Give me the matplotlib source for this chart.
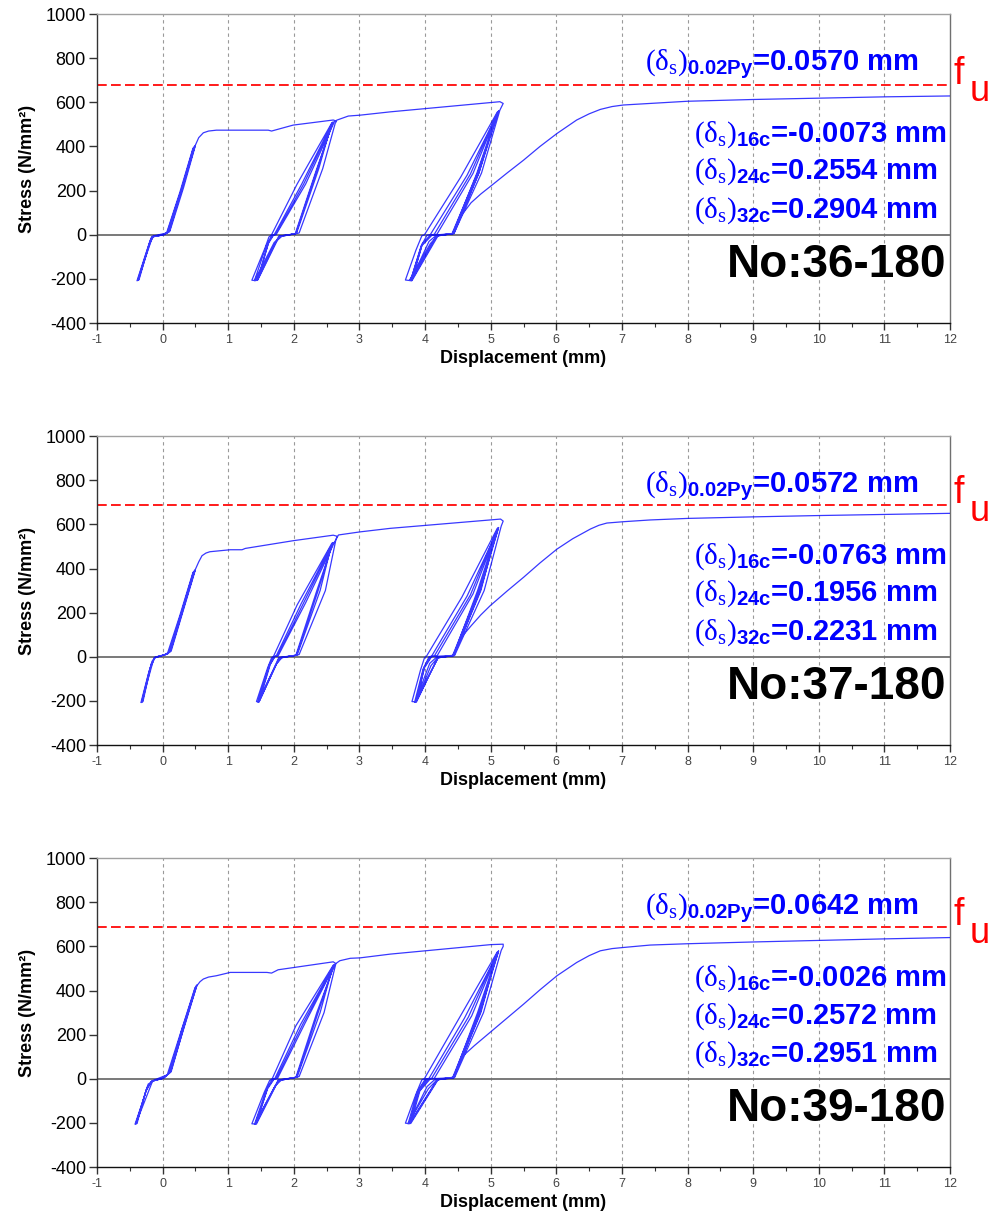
import matplotlib
matplotlib.use("Agg")
import matplotlib.pyplot as plt
from matplotlib.ticker import MultipleLocator

plt.rcParams["font.family"] = ["Liberation Sans", "DejaVu Sans"]
plt.rcParams["axes.unicode_minus"] = False
plt.rcParams["mathtext.fontset"] = "custom"
plt.rcParams["mathtext.rm"] = "Liberation Serif"
plt.rcParams["mathtext.it"] = "Liberation Serif:italic"
plt.rcParams["mathtext.bf"] = "Liberation Sans:bold"
plt.rcParams["mathtext.sf"] = "Liberation Sans"

# ---------------------------------------------------------------- data
x_ticks = list(range(-1, 13))
y_ticks = [-400, -200, 0, 200, 400, 600, 800, 1000]

specimens = ["No:36-180", "No:37-180", "No:39-180"]
fu_levels = [677, 687, 687]
slip_02py = ["0.0570", "0.0572", "0.0642"]
slip_16c = ["-0.0073", "-0.0763", "-0.0026"]
slip_24c = ["0.2554", "0.1956", "0.2572"]
slip_32c = ["0.2904", "0.2231", "0.2951"]

# (displacement mm, stress N/mm2) recorded along each test
path_36 = [
    # first cycles around zero
    (-0.39, -208), (-0.25, -80), (-0.19, -25), (-0.15, -8), (-0.05, -2), (0.03, 2), (0.09, 14), (0.30, 210), (0.49, 400),
    (0.47, 395), (0.28, 200), (0.07, 10), (-0.02, -2), (-0.14, -8), (-0.20, -40), (-0.37, -206),
    (-0.36, -204), (-0.22, -60), (-0.16, -10), (0.00, -1), (0.11, 16), (0.32, 215), (0.50, 405),
    (0.46, 390), (0.26, 190), (0.06, 8), (-0.15, -6), (-0.38, -207),
    (-0.23, -65), (-0.17, -10), (0.02, 0), (0.10, 13), (0.49, 400), (0.55, 440), (0.62, 462),
    (0.70, 470), (0.82, 474), (1.61, 474), (1.66, 470), (1.84, 485), (1.99, 497), (2.60, 520), (2.65, 515),
    # cycles at about 2 mm
    (2.63, 505), (2.44, 300), (2.08, 8), (1.82, -6), (1.73, -30), (1.42, -208),
    (1.36, -206), (1.56, -60), (1.62, -10), (1.66, 0), (2.05, 230), (2.58, 508),
    (2.38, 300), (2.04, 6), (1.80, -8), (1.70, -35), (1.40, -208),
    (1.40, -207), (1.58, -50), (1.66, -5), (1.70, 0), (2.12, 230), (2.59, 510),
    (2.36, 300), (2.03, 5), (1.78, -6), (1.45, -205),
    (1.62, -30), (1.68, -2), (1.72, 1), (2.15, 230), (2.60, 511),
    (2.35, 300), (2.02, 4), (1.77, -6), (1.44, -207),
    (1.61, -40), (1.69, -2), (1.73, 1), (2.18, 230), (2.62, 514),
    (2.66, 520), (2.83, 538), (3.01, 542), (3.47, 557), (5.14, 603), (5.19, 595),
    # cycles at about 4.5 mm
    (5.14, 565), (4.86, 280), (4.44, 6), (4.17, -3), (4.06, -30), (3.78, -208),
    (3.70, -205), (3.86, -70), (3.95, -5), (3.99, 0), (4.54, 260), (5.10, 556),
    (4.82, 280), (4.43, 6), (4.19, -5), (4.08, -40), (3.76, -207),
    (3.78, -206), (3.94, -50), (4.03, -2), (4.08, 1), (4.64, 270), (5.12, 560),
    (4.80, 280), (4.41, 5), (4.18, -4), (3.79, -209),
    (3.96, -40), (4.08, -1), (4.14, 2), (4.69, 275), (5.11, 558),
    (4.79, 280), (4.42, 5), (4.17, -6), (3.78, -206),
    (3.95, -45), (4.10, -2), (4.18, 2), (4.73, 278), (5.12, 562),
    (4.82, 280), (4.44, 5), (4.20, -3), (3.80, -208),
    # final loading to the end of the test
    (3.95, -50), (4.10, -2), (4.42, 5), (4.48, 40), (4.56, 90), (4.70, 145), (4.85, 185),
    (4.99, 218), (5.25, 280), (5.50, 338), (5.75, 400), (6.01, 459), (6.31, 520), (6.50, 548),
    (6.67, 568), (6.85, 581), (7.02, 588), (7.43, 595), (8.0, 605), (9.0, 613),
    (10.0, 619), (11.0, 625), (12.0, 629),
]

path_37 = [
    (-0.33, -207), (-0.22, -80), (-0.16, -20), (-0.12, -4), (-0.02, 4), (0.05, 10), (0.11, 23), (0.30, 210), (0.49, 390),
    (0.47, 385), (0.28, 195), (0.09, 15), (-0.02, 5), (-0.12, -5), (-0.18, -40), (-0.31, -205),
    (-0.30, -203), (-0.17, -30), (-0.11, -1), (0.03, 9), (0.13, 26), (0.32, 215), (0.50, 395),
    (0.46, 380), (0.26, 185), (0.07, 12), (-0.13, -4), (-0.32, -206),
    (-0.20, -60), (-0.12, -3), (0.02, 8), (0.12, 24), (0.49, 390), (0.55, 430), (0.60, 458),
    (0.66, 470), (0.72, 476), (1.03, 485), (1.21, 485), (1.26, 491), (1.99, 526), (2.60, 551),
    (2.66, 546), (2.64, 530),
    (2.48, 300), (2.08, 10), (1.82, -4), (1.74, -30), (1.47, -204),
    (1.43, -203), (1.60, -50), (1.66, -5), (1.69, 2), (2.05, 235), (2.58, 515),
    (2.40, 300), (2.05, 8), (1.80, -5), (1.72, -40), (1.45, -205),
    (1.62, -40), (1.69, 0), (1.73, 3), (2.11, 240), (2.59, 516),
    (2.37, 300), (2.04, 7), (1.78, -3), (1.47, -204),
    (1.64, -35), (1.71, 1), (1.75, 4), (2.15, 245), (2.60, 518),
    (2.35, 300), (2.03, 6), (1.77, -4), (1.46, -206),
    (1.63, -38), (1.71, 1), (1.76, 4), (2.18, 245), (2.62, 520),
    (2.68, 552), (3.01, 566), (3.47, 582), (4.99, 620), (5.15, 624), (5.19, 615), (5.16, 592),
    (4.90, 300), (4.45, 6), (4.17, -3), (4.07, -30), (3.85, -204),
    (3.80, -203), (3.93, -60), (3.99, -5), (4.02, 2), (4.56, 270), (5.10, 582),
    (4.85, 300), (4.44, 7), (4.19, -5), (4.09, -40), (3.86, -205),
    (3.98, -50), (4.06, 0), (4.10, 3), (4.64, 275), (5.12, 585),
    (4.82, 300), (4.42, 6), (4.20, -4), (3.84, -206),
    (3.97, -55), (4.08, 0), (4.14, 3), (4.69, 280), (5.11, 584),
    (4.80, 300), (4.43, 5), (4.19, -5), (3.87, -204),
    (3.99, -45), (4.09, 1), (4.18, 3), (4.73, 285), (5.12, 586),
    (4.84, 300), (4.44, 5), (4.20, -3), (3.86, -205),
    (3.99, -50), (4.10, 1), (4.42, 6), (4.48, 40), (4.53, 80), (4.70, 140), (4.85, 190),
    (4.99, 231), (5.25, 298), (5.50, 360), (5.75, 425), (6.01, 488), (6.25, 535), (6.52, 579),
    (6.65, 596), (6.77, 606), (7.02, 612), (7.43, 620), (8.0, 627), (9.0, 634),
    (10.0, 640), (11.0, 645), (12.0, 650),
]

path_39 = [
    (-0.42, -205), (-0.30, -100), (-0.22, -24), (-0.14, -9), (-0.04, -1), (0.01, 3), (0.11, 29), (0.30, 230), (0.52, 421),
    (0.50, 415), (0.29, 215), (0.09, 22), (-0.02, 1), (-0.16, -10), (-0.24, -40), (-0.40, -204),
    (-0.39, -202), (-0.25, -50), (-0.17, -12), (0.00, 2), (0.13, 32), (0.33, 240), (0.52, 425),
    (0.49, 410), (0.27, 205), (0.07, 18), (-0.15, -8), (-0.41, -205),
    (-0.26, -60), (-0.17, -11), (0.02, 3), (0.12, 30), (0.52, 421), (0.57, 440), (0.62, 452),
    (0.70, 461), (0.82, 467), (1.03, 482), (1.59, 482), (1.66, 479), (1.76, 494), (2.60, 530), (2.64, 522),
    (2.46, 300), (2.08, 10), (1.81, -6), (1.72, -30), (1.42, -205),
    (1.36, -204), (1.55, -60), (1.63, -8), (1.67, 0), (2.03, 240), (2.60, 515),
    (2.40, 300), (2.05, 8), (1.78, -8), (1.70, -40), (1.40, -206),
    (1.58, -50), (1.67, -2), (1.71, 1), (2.10, 245), (2.61, 516),
    (2.37, 300), (2.04, 7), (1.77, -5), (1.43, -205),
    (1.60, -40), (1.69, -1), (1.73, 1), (2.14, 250), (2.62, 518),
    (2.35, 300), (2.03, 6), (1.76, -6), (1.41, -206),
    (1.60, -45), (1.70, -1), (1.75, 1), (2.17, 252), (2.63, 520),
    (2.70, 535), (2.86, 546), (3.01, 548), (3.47, 565), (5.00, 608), (5.19, 610), (5.19, 600), (5.16, 582),
    (4.89, 300), (4.45, 6), (4.15, -3), (4.03, -35), (3.75, -203),
    (3.70, -201), (3.86, -70), (3.95, -5), (3.99, 1), (4.50, 265), (5.10, 575),
    (4.85, 300), (4.44, 8), (4.18, -5), (4.05, -45), (3.74, -204),
    (3.88, -60), (4.00, -2), (4.06, 2), (4.60, 275), (5.12, 578),
    (4.82, 300), (4.42, 6), (4.19, -4), (3.77, -202),
    (3.90, -50), (4.03, -1), (4.10, 2), (4.66, 280), (5.11, 577),
    (4.80, 300), (4.43, 5), (4.18, -5), (3.76, -204),
    (3.91, -55), (4.05, -1), (4.14, 2), (4.71, 285), (5.12, 580),
    (4.84, 300), (4.44, 4), (4.20, -3), (3.78, -203),
    (3.92, -55), (4.08, 0), (4.43, 5), (4.49, 50), (4.58, 104), (4.75, 150), (4.99, 210),
    (5.25, 275), (5.50, 338), (5.75, 403), (6.01, 467), (6.31, 527), (6.50, 558), (6.67, 580),
    (6.85, 590), (7.02, 595), (7.43, 606), (8.0, 612), (9.0, 620),
    (10.0, 627), (11.0, 634), (12.0, 640),
]

paths = [path_36, path_37, path_39]

# ---------------------------------------------------------------- figure
fig = plt.figure(figsize=(9.92, 12.25), dpi=100)
panel_boxes = [
    (0.0978, 0.7363, 0.8599, 0.2522),
    (0.0978, 0.3918, 0.8599, 0.2522),
    (0.0978, 0.0473, 0.8599, 0.2522),
]

blue = "#0000ff"
note_size = 21

for k, box in enumerate(panel_boxes):
    ax = fig.add_axes(box)
    xs = [p[0] for p in paths[k]]
    ys = [p[1] for p in paths[k]]

    ax.set_xlim(-1, 12)
    ax.set_ylim(-400, 1000)
    ax.set_xticks(x_ticks)
    ax.set_yticks(y_ticks)
    ax.xaxis.set_minor_locator(MultipleLocator(0.5))

    # vertical dashed grid and zero line
    for xv in x_ticks[1:-1]:
        ax.axvline(xv, color="#9a9a9a", lw=0.8, ls=(0, (3, 3)), zorder=1)
    ax.axhline(0, color="#6e6e6e", lw=1.3, zorder=1)

    # ultimate strength level
    ax.axhline(fu_levels[k], color="#ff1a1a", lw=1.4, ls=(0, (5, 2.2)), zorder=2)
    ax.text(12.06, fu_levels[k] + 8, "f", color="#ff0000", fontsize=27,
            ha="left", va="baseline", clip_on=False)
    ax.text(12.30, fu_levels[k] - 70, "u", color="#ff0000", fontsize=26,
            ha="left", va="baseline", clip_on=False)

    ax.plot(xs, ys, color=blue, lw=0.9, alpha=0.78, zorder=3,
            solid_joinstyle="round")

    # slip annotations
    ax.text(11.52, 746,
            r"$\mathrm{(\delta_s)}_{\mathbf{0.02Py}}$" + "=" + slip_02py[k] + " mm",
            color=blue, fontsize=note_size, fontweight="bold", ha="right", va="baseline")
    for val, sub, yy in [(slip_16c[k], "16c", 421), (slip_24c[k], "24c", 252),
                         (slip_32c[k], "32c", 79)]:
        ax.text(8.10, yy,
                r"$\mathrm{(\delta_s)}_{\mathbf{" + sub + "}}$" + "=" + val + " mm",
                color=blue, fontsize=note_size, fontweight="bold", ha="left", va="baseline")

    ax.text(11.94, -190, specimens[k], fontsize=33, fontweight="bold",
            ha="right", va="baseline", color="black")

    # axes styling
    ax.spines["left"].set_color("#333333")
    ax.spines["bottom"].set_color("#111111")
    ax.spines["top"].set_color("#a0a0a0")
    ax.spines["right"].set_color("#707070")
    for sp in ax.spines.values():
        sp.set_linewidth(1.0)
    ax.tick_params(axis="y", direction="out", length=6, width=1, labelsize=13,
                   colors="#333333", labelcolor="black", pad=2)
    ax.tick_params(axis="x", which="major", direction="out", length=5, width=1,
                   labelsize=9, colors="#333333", labelcolor="#444444", pad=3)
    ax.tick_params(axis="x", which="minor", direction="out", length=3, width=0.8,
                   colors="#333333")
    ax.set_xlabel("Displacement (mm)", fontsize=13, fontweight="bold", labelpad=3)
    ax.set_ylabel("Stress (N/mm²)", fontsize=13, fontweight="bold", labelpad=7)

fig.savefig("out.png", dpi=100)
